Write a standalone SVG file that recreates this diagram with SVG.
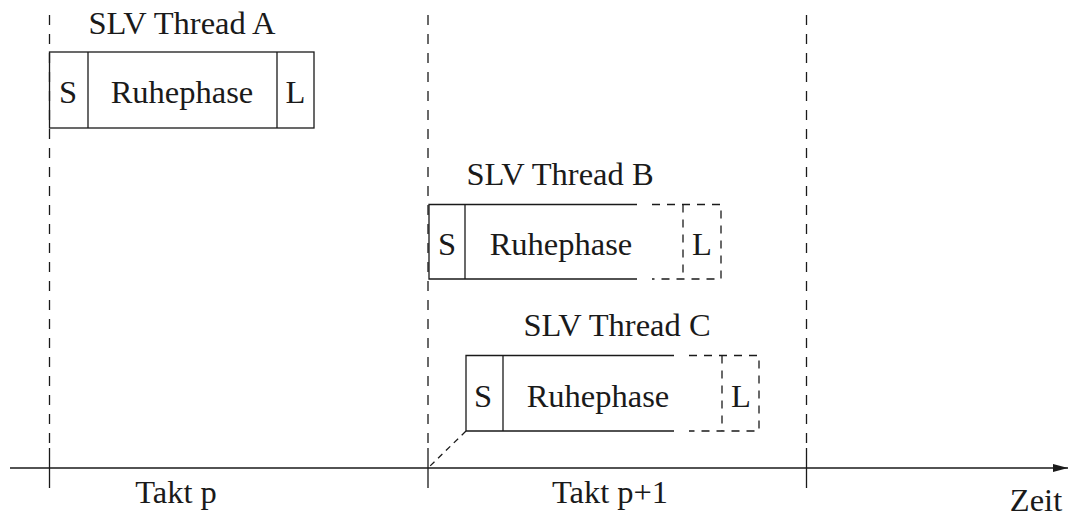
<svg xmlns="http://www.w3.org/2000/svg" width="1069" height="519" viewBox="0 0 1069 519">
<style>
.ln{stroke:#1a1a1a;stroke-width:1.3;fill:none}
.dl{stroke:#1a1a1a;stroke-width:1.3;fill:none;stroke-dasharray:10 9}
.db{stroke:#1a1a1a;stroke-width:1.3;fill:none;stroke-dasharray:8 7}
.t{font-family:"Liberation Serif","Times New Roman",serif;font-size:32.5px;fill:#1a1a1a;text-anchor:middle}
</style>
<defs>
<marker id="arr" markerWidth="16" markerHeight="10" refX="15" refY="5" orient="auto" markerUnits="userSpaceOnUse">
<path d="M0,1 L15,5 L0,9 Z" fill="#1a1a1a"/>
</marker>
</defs>
<rect width="1069" height="519" fill="#fff"/>
<g id="connectors">
<line class="dl" x1="49.5" y1="15" x2="49.5" y2="450"/>
<line class="dl" x1="428" y1="15" x2="428" y2="450"/>
<line class="dl" x1="806.5" y1="15" x2="806.5" y2="450"/>
<line class="ln" x1="49.5" y1="448" x2="49.5" y2="488"/>
<line class="ln" x1="428" y1="448" x2="428" y2="488"/>
<line class="ln" x1="806.5" y1="448" x2="806.5" y2="488"/>
<line class="ln" x1="10" y1="468" x2="1068" y2="468" marker-end="url(#arr)"/>
<line class="ln" x1="466" y1="431" x2="428" y2="468" style="stroke-dasharray:6 5"/>
</g>
<g id="threadA">
<text class="t" x="182" y="34">SLV Thread A</text>
<rect class="ln" x="49.5" y="52" width="264.5" height="76"/>
<line class="ln" x1="88" y1="52" x2="88" y2="128"/>
<line class="ln" x1="277" y1="52" x2="277" y2="128"/>
<text class="t" x="68" y="103">S</text>
<text class="t" x="182" y="103">Ruhephase</text>
<text class="t" x="295.5" y="103">L</text>
</g>
<g id="threadB">
<text class="t" x="560" y="185">SLV Thread B</text>
<path class="ln" d="M637,204.5 H429 V279 H637"/>
<line class="ln" x1="465" y1="204.5" x2="465" y2="279"/>
<path class="db" d="M652,204.5 H721 V279 H652"/>
<line class="db" x1="683" y1="204.5" x2="683" y2="279"/>
<text class="t" x="447" y="255">S</text>
<text class="t" x="561" y="255">Ruhephase</text>
<text class="t" x="702" y="255">L</text>
</g>
<g id="threadC">
<text class="t" x="617" y="336">SLV Thread C</text>
<path class="ln" d="M674,355.5 H466 V431 H674"/>
<line class="ln" x1="503" y1="355.5" x2="503" y2="431"/>
<path class="db" d="M689,355.5 H759 V431 H689"/>
<line class="db" x1="722" y1="355.5" x2="722" y2="431"/>
<text class="t" x="483" y="407">S</text>
<text class="t" x="598" y="407">Ruhephase</text>
<text class="t" x="741" y="407">L</text>
</g>
<g id="labels">
<text class="t" x="176" y="503">Takt p</text>
<text class="t" x="610" y="503">Takt p+1</text>
<text class="t" x="1036" y="511">Zeit</text>
</g>
</svg>
